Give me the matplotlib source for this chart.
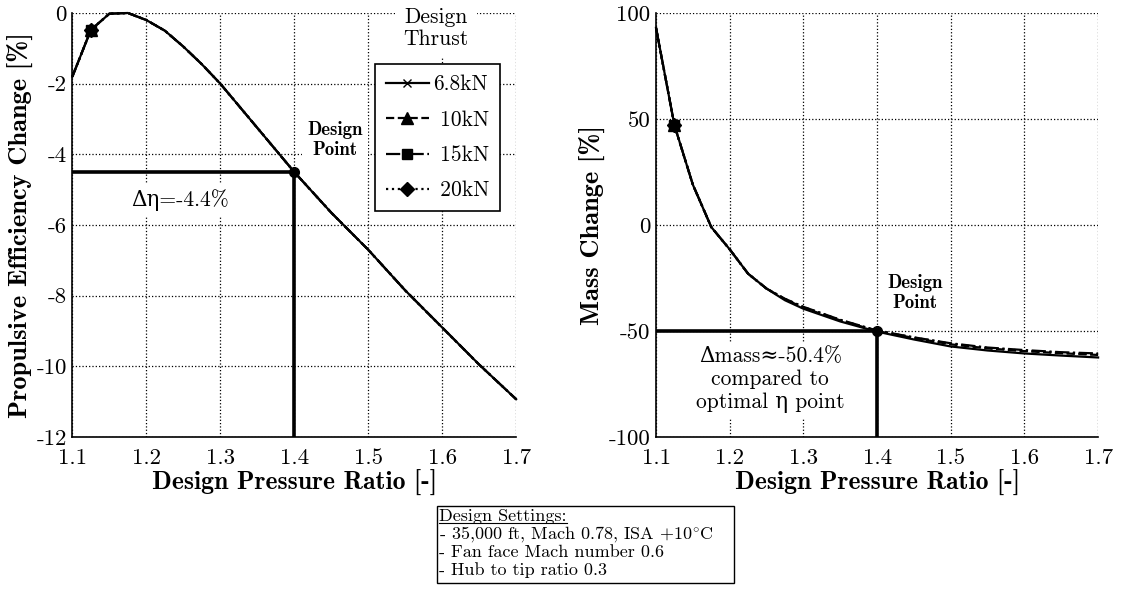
import numpy as np
import matplotlib
matplotlib.use("Agg")
import matplotlib.pyplot as plt
from matplotlib.lines import Line2D

plt.rcParams['font.family'] = ['cmr10', 'DejaVu Serif']
plt.rcParams['mathtext.fontset'] = 'cm'
plt.rcParams['axes.unicode_minus'] = False
plt.rcParams['axes.formatter.use_mathtext'] = True

# Design pressure ratio sweep
pr = [1.1, 1.125, 1.15, 1.175, 1.2, 1.225, 1.25, 1.275, 1.3, 1.35,
      1.4, 1.45, 1.5, 1.55, 1.6, 1.65, 1.7]

# Propulsive efficiency change [%] (all thrusts overlap)
eta_68 = [-1.8, -0.48, -0.02, 0.0, -0.2, -0.5, -0.95, -1.45, -2.0, -3.25,
          -4.5, -5.65, -6.7, -7.85, -8.9, -9.95, -10.93]
eta_10 = [-1.8, -0.48, -0.02, 0.0, -0.2, -0.5, -0.95, -1.45, -2.0, -3.25,
          -4.5, -5.65, -6.7, -7.85, -8.9, -9.95, -10.93]
eta_15 = [-1.8, -0.48, -0.02, 0.0, -0.2, -0.5, -0.95, -1.45, -2.0, -3.25,
          -4.5, -5.65, -6.7, -7.85, -8.9, -9.95, -10.93]
eta_20 = [-1.8, -0.48, -0.02, 0.0, -0.2, -0.5, -0.95, -1.45, -2.0, -3.25,
          -4.5, -5.65, -6.7, -7.85, -8.9, -9.95, -10.93]

# Mass change [%]
mass_68 = [93, 47, 19, -1, -11.5, -23, -30, -35.5, -39.5, -45.5,
           -50.3, -54, -57.3, -59.2, -60.6, -61.6, -62.5]
mass_10 = [93, 47, 19, -1, -11.5, -23, -30, -35, -39, -45,
           -50, -53.3, -56.3, -58.2, -59.5, -60.5, -61.3]
mass_15 = [93, 47, 19, -1, -11.5, -23, -30, -34.8, -38.6, -44.7,
           -49.8, -53, -55.8, -57.8, -59, -60, -60.6]
mass_20 = [93, 47, 19, -1, -11.5, -23, -30, -34.9, -38.7, -44.8,
           -49.9, -53.1, -56, -58, -59.3, -60.3, -61]

labels = ['6.8kN', ' 10kN', ' 15kN', ' 20kN']
styles = ['-', '--', '-.', ':']
markers = ['x', '^', 's', 'D']
msizes = [6, 9, 7, 7]

design_pr = 1.4
design_eta = -4.5
design_mass = -50

xticks = [1.1, 1.2, 1.3, 1.4, 1.5, 1.6, 1.7]
xticklabels = ['1.1', '1.2', '1.3', '1.4', '1.5', '1.6', '1.7']
eta_ticks = [0, -2, -4, -6, -8, -10, -12]
mass_ticks = [100, 50, 0, -50, -100]

fig = plt.figure(figsize=(11.22, 5.96), dpi=100)
ax1 = fig.add_axes([0.0645, 0.2668, 0.3955, 0.7114])
ax2 = fig.add_axes([0.5847, 0.2668, 0.394, 0.7114])

def style_axes(ax, yticks, ylim):
    ax.set_xlim(1.1, 1.7)
    ax.set_ylim(*ylim)
    ax.set_xticks(xticks)
    ax.set_xticklabels(xticklabels)
    ax.set_yticks(yticks)
    ax.set_yticklabels([str(t) for t in yticks])
    ax.tick_params(direction='in', length=0, labelsize=16.5)
    ax.tick_params(axis='x', pad=8)
    ax.tick_params(axis='y', pad=4)
    ax.grid(True, color='k', linestyle=':', linewidth=0.9)
    ax.spines['top'].set_visible(False)
    ax.spines['right'].set_visible(False)
    ax.spines['left'].set_linewidth(1.2)
    ax.spines['bottom'].set_linewidth(1.2)
    ax.set_xlabel('Design Pressure Ratio [-]', fontfamily='cmb10', fontsize=18.5, labelpad=2)

style_axes(ax1, eta_ticks, (-12, 0))
style_axes(ax2, mass_ticks, (-100, 100))
ax1.set_ylabel('Propulsive Efficiency Change [%]', fontfamily='cmb10', fontsize=19, labelpad=2)
ax2.set_ylabel('Mass Change [%]', fontfamily='cmb10', fontsize=19, labelpad=2)

eta_series = [eta_68, eta_10, eta_15, eta_20]
mass_series = [mass_68, mass_10, mass_15, mass_20]
handles = []
for i in range(4):
    h, = ax1.plot(pr, eta_series[i], color='k', linestyle=styles[i], lw=1.6,
                  marker=markers[i], ms=msizes[i], markevery=[1], clip_on=False)
    ax2.plot(pr, mass_series[i], color='k', linestyle=styles[i], lw=1.6,
             marker=markers[i], ms=msizes[i], markevery=[1], clip_on=False)
    handles.append(h)

# design point lines
ax1.plot([1.1, design_pr], [design_eta, design_eta], color='k', lw=2.6)
ax1.plot([design_pr, design_pr], [-12, design_eta], color='k', lw=2.6)
ax1.plot(design_pr, design_eta, 'ko', ms=7)
ax2.plot([1.1, design_pr], [design_mass, design_mass], color='k', lw=2.6)
ax2.plot([design_pr, design_pr], [-100, design_mass], color='k', lw=2.6)
ax2.plot(design_pr, design_mass, 'ko', ms=7)

white = dict(facecolor='white', edgecolor='none', pad=4)
ax1.text(1.455, -3.6, 'Design\nPoint', fontfamily='cmb10', fontsize=13.5,
         ha='center', va='center', linespacing=1.1, bbox=white)
ax1.text(1.246, -5.3, '\u0394\u03b7=-4.4%', fontsize=15.5, ha='center', va='center', bbox=white)
ax2.text(1.452, -32, 'Design\nPoint', fontfamily='cmb10', fontsize=13.5,
         ha='center', va='center', linespacing=1.1, bbox=white)
ax2.text(1.255, -73, '\u0394mass\u2248-50.4%\ncompared to\noptimal \u03b7 point', fontsize=15.5,
         ha='center', va='center', linespacing=1.2, bbox=white)

leg = ax1.legend(handles, labels, loc='upper left', bbox_to_anchor=(0.682, 0.880),
                 borderaxespad=0, fontsize=15.5, frameon=True, fancybox=False,
                 framealpha=1, edgecolor='k', handlelength=2.0, handletextpad=0.2,
                 labelspacing=0.74, borderpad=0.5)
leg.get_frame().set_linewidth(1.2)
ax1.text(0.82, 0.965, 'Design\nThrust', transform=ax1.transAxes, fontsize=15.5,
         ha='center', va='center', linespacing=1.15,
         bbox=dict(facecolor='white', edgecolor='none', pad=6))

# settings box
box_l, box_b, box_w, box_h = 0.3895, 0.022, 0.265, 0.129
fig.patches.append(plt.Rectangle((box_l, box_b), box_w, box_h, transform=fig.transFigure,
                                 facecolor='white', edgecolor='k', lw=1.0))
lines = ['Design Settings:', '- 35,000 ft, Mach 0.78, ISA +10$^{\\circ}$C',
         '- Fan face Mach number 0.6', '- Hub to tip ratio 0.3']
texts = []
for k, s in enumerate(lines):
    t = fig.text(box_l + 0.002, 1 - (516 + 18 * k) / 596, s, fontsize=13,
                 ha='left', va='center')
    texts.append(t)

fig.canvas.draw()
bb = texts[0].get_window_extent()
x0, x1 = bb.x0 / 1122, bb.x1 / 1122
yu = (bb.y0 + 1) / 596
fig.add_artist(Line2D([x0, x1], [yu, yu], transform=fig.transFigure, color='k', lw=0.8))

fig.savefig('out.png', dpi=100)
